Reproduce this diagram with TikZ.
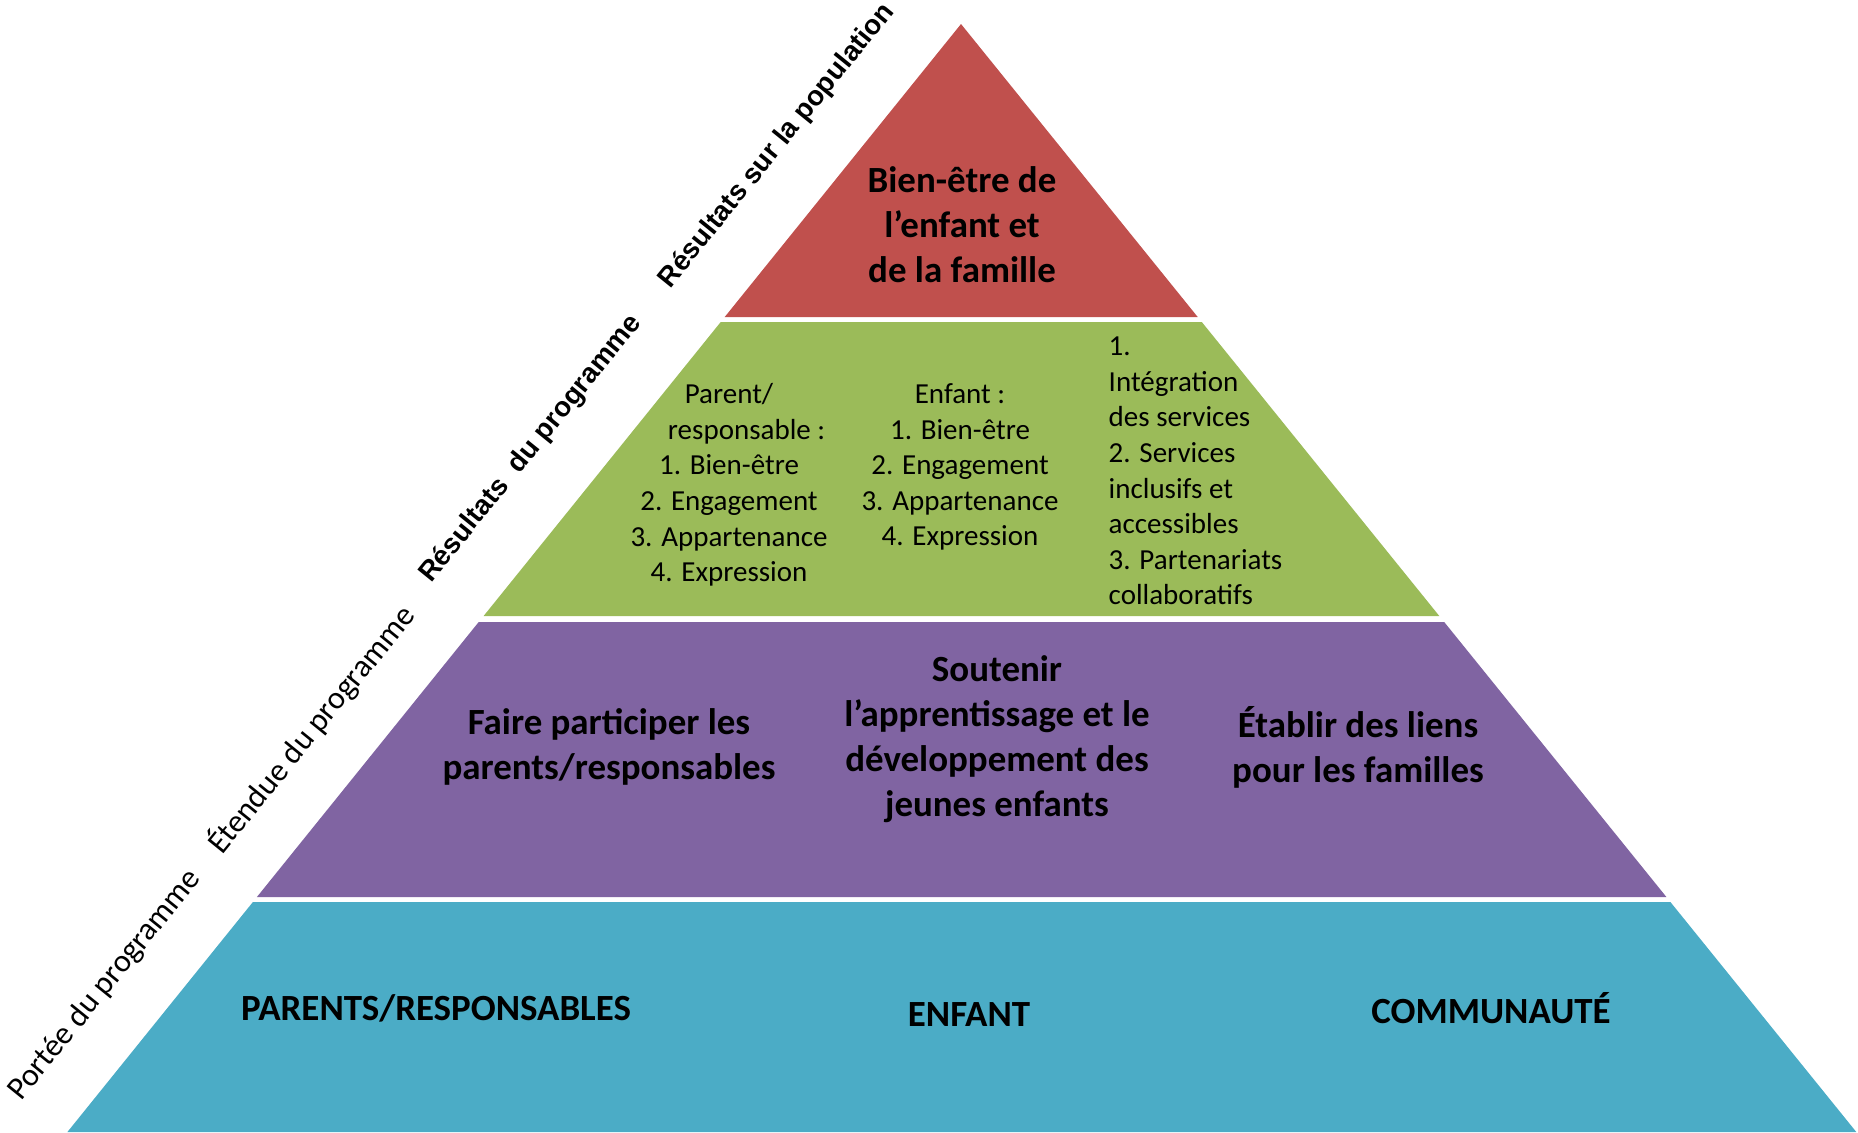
\documentclass[tikz,border=0pt]{standalone}
\usepackage{fontspec}
\setmainfont{Carlito}
\newfontfamily\arialf{Liberation Sans}
\definecolor{pred}{HTML}{C0504D}
\definecolor{pgreen}{HTML}{9BBB59}
\definecolor{ppurple}{HTML}{8064A2}
\definecolor{pteal}{HTML}{4BACC6}
\tikzset{
  bigtext/.style={inner sep=0pt, align=center, font=\bfseries\fontsize{10.5pt}{12.8pt}\selectfont},
  smalltext/.style={inner sep=0pt, align=center, font=\fontsize{8.25pt}{10.1pt}\selectfont},
  sidearial/.style={inner sep=0pt, rotate=51, font=\arialf\bfseries\fontsize{7.9pt}{10pt}\selectfont},
  sidecal/.style={inner sep=0pt, rotate=51, font=\fontsize{9.1pt}{11pt}\selectfont},
}
\begin{document}
\begin{tikzpicture}[x=0.01cm,y=-0.01cm]
\useasboundingbox (0,0) rectangle (1858,1132);
\fill[white] (0,0) rectangle (1858,1132);
% layers
\fill[pred] (961,24) -- (1197.7,317) -- (724.7,317) -- cycle;
\fill[pgreen] (720.7,322) -- (1201.8,322) -- (1439.3,616) -- (483.6,616) -- cycle;
\fill[ppurple] (478.7,622) -- (1444.2,622) -- (1666.4,897) -- (256.9,897) -- cycle;
\fill[pteal] (252.9,902) -- (1670.4,902) -- (1856.3,1132) -- (67.4,1132) -- cycle;
% red
\node[bigtext] (top) at (962,225) {Bien-être de\\l’enfant et\\de la famille};
% green
\node[smalltext] (gleft) at (729,485) {Parent/\\\hspace*{10pt}responsable :\\1. Bien-être\\2. Engagement\\3. Appartenance\\4. Expression};
\node[smalltext] (gmid) at (960,467) {Enfant :\\1. Bien-être\\2. Engagement\\3. Appartenance\\4. Expression};
\node[smalltext, align=left, anchor=west] (gright) at (1108,471) {1.\\Intégration\\des services\\2. Services\\inclusifs et\\accessibles\\3. Partenariats\\collaboratifs};
% purple
\node[bigtext] (pleft) at (609,747) {Faire participer les\\parents/responsables};
\node[bigtext] (pmid) at (997,739) {Soutenir\\l’apprentissage et le\\développement des\\jeunes enfants};
\node[bigtext] (pright) at (1358,747) {Établir des liens\\pour les familles};
% teal
\node[bigtext] (tleft) at (436,1008) {PARENTS/RESPONSABLES};
\node[bigtext] (tmid) at (969,1014) {ENFANT};
\node[bigtext] (tright) at (1491,1008) {COMMUNAUTÉ};
% side labels
\node[sidearial] (l1) at (777,146) {Résultats sur la population};
\node[sidearial] (l2) at (531,449) {Résultats\ \ du programme};
\node[sidecal] (l3) at (311,729) {Étendue du programme};
\node[sidecal] (l4) at (105,985) {Portée du programme};
\end{tikzpicture}
\end{document}
